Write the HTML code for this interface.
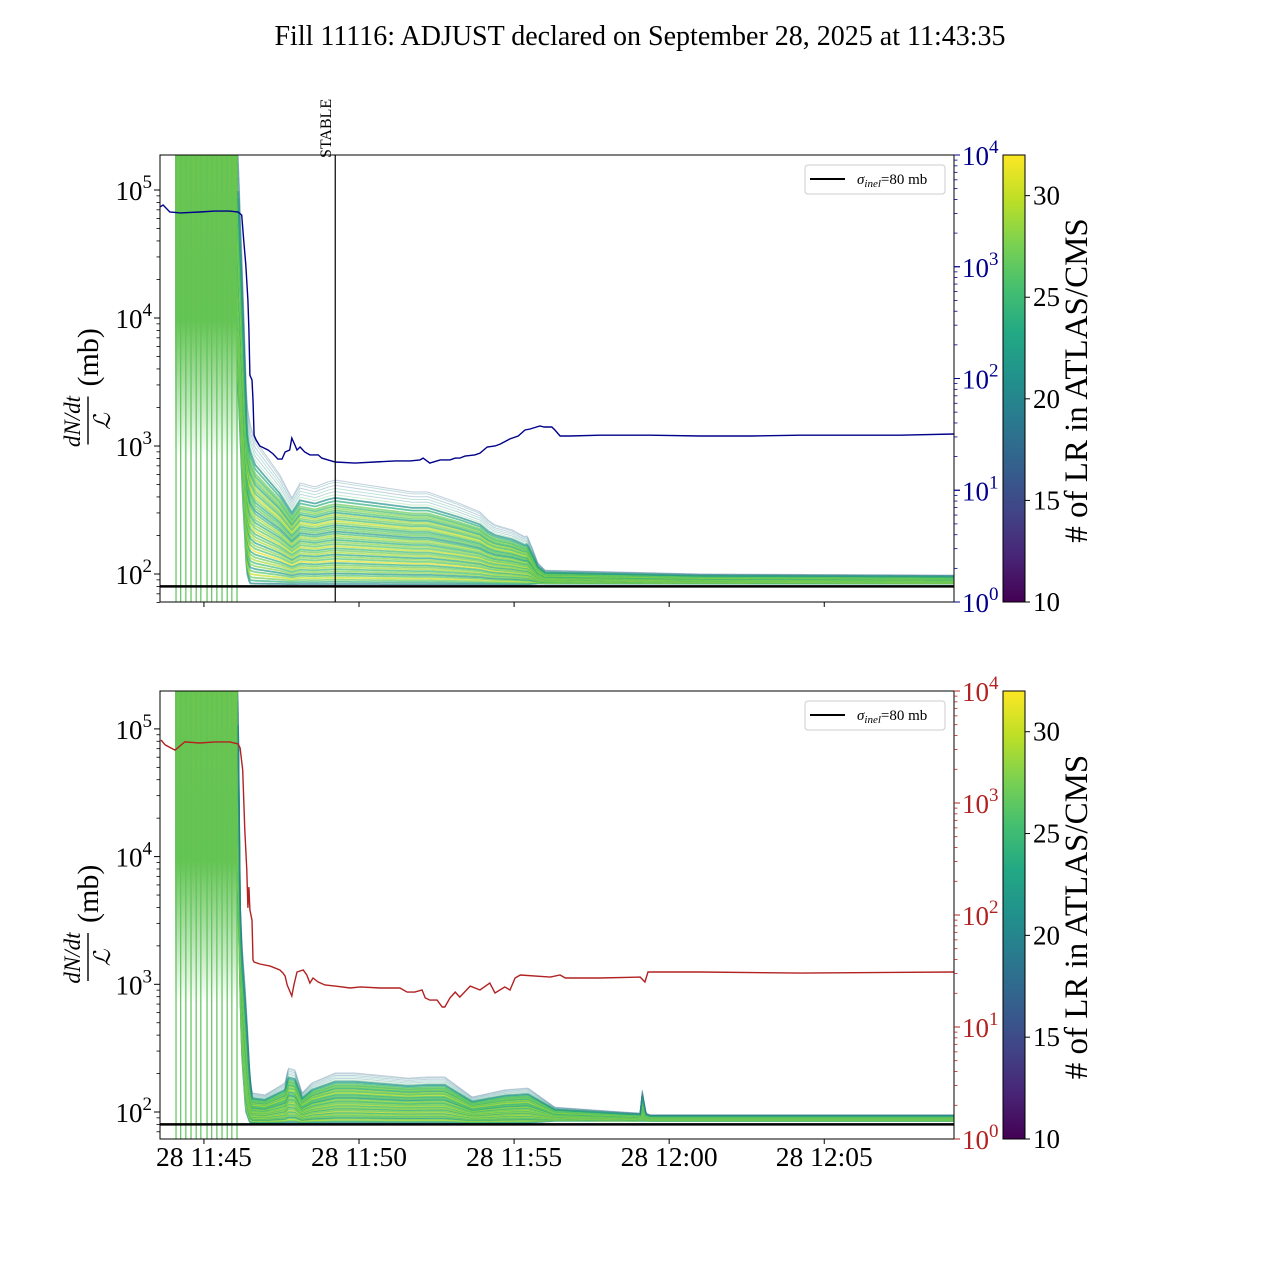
<!DOCTYPE html>
<html><head><meta charset="utf-8"><style>
html,body{margin:0;padding:0;background:#fff}
svg{display:block;font-family:"Liberation Serif","DejaVu Serif",serif}
</style></head><body>
<svg id="fig" width="1280" height="1280" viewBox="0 0 1280 1280" xmlns="http://www.w3.org/2000/svg">
<defs>
<clipPath id="clipTop"><rect x="160" y="155" width="794" height="447"/></clipPath>
<clipPath id="clipBot"><rect x="160" y="691" width="794" height="448"/></clipPath>
<linearGradient id="viridis" x1="0" y1="1" x2="0" y2="0">
<stop offset="0" stop-color="#440154"/><stop offset="0.1" stop-color="#482475"/><stop offset="0.2" stop-color="#414487"/><stop offset="0.3" stop-color="#355f8d"/><stop offset="0.4" stop-color="#2a788e"/><stop offset="0.5" stop-color="#21918c"/><stop offset="0.6" stop-color="#22a884"/><stop offset="0.7" stop-color="#44bf70"/><stop offset="0.8" stop-color="#7ad151"/><stop offset="0.9" stop-color="#bddf26"/><stop offset="1" stop-color="#fde725"/>
</linearGradient>
<linearGradient id="fadeTop" x1="0" y1="155" x2="0" y2="602" gradientUnits="userSpaceOnUse">
<stop offset="0" stop-color="#6cc54f" stop-opacity="1"/><stop offset="0.37" stop-color="#66c453" stop-opacity="1"/><stop offset="0.68" stop-color="#5cc05a" stop-opacity="0"/><stop offset="1" stop-color="#5cc05a" stop-opacity="0"/>
</linearGradient>
<linearGradient id="fadeBot" x1="0" y1="691" x2="0" y2="1139" gradientUnits="userSpaceOnUse">
<stop offset="0" stop-color="#6cc54f" stop-opacity="1"/><stop offset="0.38" stop-color="#66c453" stop-opacity="1"/><stop offset="0.7" stop-color="#5cc05a" stop-opacity="0"/><stop offset="1" stop-color="#5cc05a" stop-opacity="0"/>
</linearGradient>
</defs>
<text x="640" y="45" text-anchor="middle" font-size="28">Fill 11116: ADJUST declared on September 28, 2025 at 11:43:35</text>
<g id="layer"></g>
</svg>
<script>
// ---------- data (time in seconds after 11:40:00) ----------
const xTickSec = [300, 600, 900, 1200, 1500];
const xTickLabels = ["28 11:45", "28 11:50", "28 11:55", "28 12:00", "28 12:05"];
const leftTickExp = [2, 3, 4, 5];
const rightTickExp = [0, 1, 2, 3, 4];
const cbTicks = [10, 15, 20, 25, 30];
const sigmaInel = 80;
const stableSec = 554;
const spikeSec = [246, 255, 265, 275, 285, 294, 306, 315, 325, 335, 345, 354, 364];

const blueT = [215,221,234,254,292,321,350,366,373,377,381,385,387,389,393,395,397,401,408,424,434,443,451,457,466,470,476,480,486,495,505,521,528,540,554,592,631,670,699,718,724,737,757,776,786,795,805,824,834,848,863,873,892,908,921,931,950,958,973,979,989,1008,1066,1163,1260,1357,1453,1550,1647,1751];
const blueV = [3430,3570,3090,3030,3090,3150,3150,3090,2900,1730,1040,504,272,107,97,64,31,28.2,24.9,22.9,21.1,19.0,19.0,22.0,22.9,29.3,25.4,22.9,24.4,22.0,20.7,20.7,19.4,18.7,17.9,17.5,17.9,18.3,18.3,18.7,19.4,17.5,18.7,18.7,19.4,19.4,20.2,20.7,21.5,24.4,24.9,25.9,28.8,30.6,34.6,35.3,37.6,36.8,36.8,34.6,30.6,30.6,31.1,31.1,30.6,30.6,31.1,31.1,31.1,31.9];

const redT = [217,225,244,263,292,321,350,366,370,375,379,383,385,387,389,393,395,397,408,428,447,453,457,461,470,474,480,492,499,505,511,521,534,554,583,602,641,679,693,708,722,728,737,751,761,766,776,786,795,815,834,853,863,882,892,902,912,970,989,999,1066,1144,1153,1159,1260,1453,1751];
const redV = [3650,3300,2970,3510,3430,3510,3510,3370,3100,1970,574,252,116,178,111,90,39.6,38,36.5,35,32.3,30.3,28.5,23.7,18.9,23.7,31,32.3,29.1,24.7,27.4,25.2,23.7,23.2,22.3,22.8,22.3,22.3,20.5,20.5,21.4,18.2,17.4,17.4,15.1,15.1,18.2,20.5,18.5,23.2,21.4,24.7,20.1,22.8,21.4,27.4,29.1,27.9,29.1,27.4,27.4,27.9,25.2,31,31,30.3,31];

const bandTopT = [366,375,383,389,399,447,470,486,515,540,554,703,733,792,834,850,863,896,921,925,935,946,960,1260,1751];
const bandTopUpper = [200000,20000,2170,1500,1110,593,393,514,479,524,542,437,437,359,305,263,242,221,195,200,160,122,107,100,98];
const bandTopLower = [3000,400,100,82,82,82,82,82,82,82,82,82,82,82,82,82,82,82,82,82,83,84,84,84,84];

const bandBotT = [366,370,373,381,389,393,418,457,463,476,490,509,554,592,695,733,766,819,882,927,979,1109,1144,1148,1155,1163,1751];
const bandBotUpper = [200000,5000,2310,800,200,141,136,169,221,213,141,169,202,202,184,188,188,131,149,154,109,100,98,149,98,95,95];
const bandBotLower = [5000,1000,300,100,82,82,82,82,82,82,82,82,82,82,82,82,82,82,82,82,85,85,85,85,85,85,85];

const lineFrac = [0.01,0.03,0.05,0.07,0.09,0.11,0.13,0.15,0.17,0.19,0.21,0.23,0.25,0.27,0.29,0.31,0.33,0.35,0.37,0.39,0.41,0.43,0.45,0.47,0.49,0.51,0.53,0.55,0.57,0.59,0.61,0.63,0.65,0.67,0.69,0.71,0.73,0.75,0.77,0.8,0.83,0.86,0.89,0.92,0.95,0.98,1.0];
const lineLR = [20,24,27,30,26,22,28,25,29,27,24,31,26,28,23,29,27,25,30,26,28,24,27,29,25,22,27,26,24,28,30,25,27,29,23,26,28,25,27,24,21,26,19,23,17,21,16];

// ---------- scales ----------
const X0 = 160, X1 = 954, S0 = 215, S1 = 1751;
function xs(s){ return X0 + (s - S0) * (X1 - X0) / (S1 - S0); }
const panels = {
  top: {y0:155, y1:602, lBase:574, lDec:128, rBot:602, rDec:111.75, color:'#00008b', clip:'clipTop', cb0:602, cb1:155},
  bot: {y0:691, y1:1139, lBase:1112, lDec:127.7, rBot:1139, rDec:112, color:'#b22222', clip:'clipBot', cb0:1139, cb1:691}
};
function yL(p, v){ return p.lBase - (Math.log10(v) - 2) * p.lDec; }
function yR(p, v){ return p.rBot - Math.log10(v) * p.rDec; }
function yCB(p, v){ return p.cb0 - (v - 10) * (p.cb0 - p.cb1) / 22; }
const vstops = ['#440154','#482475','#414487','#355f8d','#2a788e','#21918c','#22a884','#44bf70','#7ad151','#bddf26','#fde725'];
function hex(c){ return [parseInt(c.substr(1,2),16),parseInt(c.substr(3,2),16),parseInt(c.substr(5,2),16)]; }
function viridis(t){
  t = Math.max(0, Math.min(1, t)); const f = t*10, i = Math.min(9, Math.floor(f)), r = f - i;
  const a = hex(vstops[i]), b = hex(vstops[i+1]);
  return 'rgb(' + a.map((v,k)=>Math.round(v + (b[k]-v)*r)).join(',') + ')';
}

const NS = 'http://www.w3.org/2000/svg';
const layer = document.getElementById('layer');
function mk(tag, attrs, parent){
  const e = document.createElementNS(NS, tag);
  for (const k in attrs) e.setAttribute(k, attrs[k]);
  (parent || layer).appendChild(e); return e;
}
function interp(ts, vs, s){
  if (s <= ts[0]) return vs[0];
  for (let i = 1; i < ts.length; i++) if (s <= ts[i]) {
    const r = (s - ts[i-1]) / (ts[i] - ts[i-1]);
    return Math.pow(10, Math.log10(vs[i-1]) + r * (Math.log10(vs[i]) - Math.log10(vs[i-1])));
  }
  return vs[vs.length-1];
}

function drawPanel(key, bandT, bandU, bandL, lineT, lineV, showXLabels){
  const p = panels[key];
  const g = mk('g', {'clip-path':'url(#'+p.clip+')'});
  
  
  const early = mk('rect', {x: xs(spikeSec[0]) - 1, y: p.y0, width: xs(bandT[0]) - xs(spikeSec[0]) + 1, height: p.y1 - p.y0, fill: 'url(#fade' + (key==='top'?'Top':'Bot') + ')'}, g);
  
  
  spikeSec.forEach(s => {
    const l = mk('line', {x1: xs(s), x2: xs(s), y1: p.y0, y2: p.y1, stroke: '#5ec45a', 'stroke-width': 1.2}, g);
    
    
  });
  const sArr = [];
  for (let s = bandT[0]; s <= bandT[bandT.length-1]; s += 2) sArr.push(s);
  lineFrac.forEach((f, j) => {
    let d = '';
    sArr.forEach((s, i) => {
      const u = Math.log10(interp(bandT, bandU, s)), lo = Math.log10(interp(bandT, bandL, s));
      const v = Math.pow(10, lo + f * (u - lo));
      d += (i ? 'L' : 'M') + xs(s).toFixed(1) + ' ' + yL(p, v).toFixed(1);
    });
    const pth = mk('path', {d: d, fill: 'none', stroke: viridis((lineLR[j] - 10) / 22), 'stroke-width': f > 0.85 ? 1 : 1.8, 'stroke-opacity': f > 0.85 ? 0.3 : 0.7}, g);
    
    
  });
  const sl = mk('line', {x1: X0, x2: X1, y1: yL(p, sigmaInel), y2: yL(p, sigmaInel), stroke: '#000', 'stroke-width': 2.5}, g);
  
  
  let d = '';
  const n = Math.min(lineT.length, lineV.length);
  for (let i = 0; i < n; i++) d += (i ? 'L' : 'M') + xs(lineT[i]).toFixed(1) + ' ' + yR(p, lineV[i]).toFixed(1);
  const rl = mk('path', {d: d, fill: 'none', stroke: p.color, 'stroke-width': 1.4}, g);
  
  
  if (key === 'top') {
    const st = mk('line', {x1: xs(stableSec), x2: xs(stableSec), y1: p.y0, y2: p.y1, stroke: '#000', 'stroke-width': 1.2});
    
    
    const tt = mk('text', {x: 0, y: 0, 'font-size': 16, transform: 'translate(' + (xs(stableSec) - 4) + ',158) rotate(-90)'});
    tt.textContent = 'STABLE';
    
    
  }
  const fr = mk('rect', {x: X0, y: p.y0, width: X1 - X0, height: p.y1 - p.y0, fill: 'none', stroke: '#000', 'stroke-width': 1});
  
  
  xTickSec.forEach((s, i) => {
    const t = mk('line', {x1: xs(s), x2: xs(s), y1: p.y1, y2: p.y1 + 5, stroke: '#000'});
    
    
    if (showXLabels) {
      const lb = mk('text', {x: xs(s), y: p.y1 + 27, 'text-anchor': 'middle', 'font-size': 27.5});
      lb.textContent = xTickLabels[i];
      
      
    }
  });
  for (let e = 1; e <= 5; e++) for (let m = 1; m <= 9; m++) {
    const v = m * Math.pow(10, e), y = yL(p, v);
    if (y < p.y0 - 0.5 || y > p.y1 + 0.5) continue;
    const t = mk('line', {x1: X0 - (m === 1 ? 6 : 3.5), x2: X0, y1: y, y2: y, stroke: '#000', 'stroke-width': m === 1 ? 1 : 0.8});
    
    
  }
  leftTickExp.forEach(e => {
    const y = yL(p, Math.pow(10, e));
    const tx = mk('text', {x: 152, y: y + 10, 'text-anchor': 'end', 'font-size': 27});
    tx.innerHTML = '10<tspan dy="-12" font-size="19">' + e + '</tspan>';
    
    
  });
  for (let e = 0; e <= 3; e++) for (let m = 1; m <= 10; m++) {
    const v = m * Math.pow(10, e), y = yR(p, v);
    const major = (m === 1 || m === 10);
    const t = mk('line', {x1: X1, x2: X1 + (major ? 6 : 3.5), y1: y, y2: y, stroke: p.color, 'stroke-width': major ? 1 : 0.8});
    
    
  }
  rightTickExp.forEach(e => {
    const y = yR(p, Math.pow(10, e));
    const tx = mk('text', {x: 962, y: y + 10, 'font-size': 27, fill: p.color});
    tx.innerHTML = '10<tspan dy="-12" font-size="19">' + e + '</tspan>';
    
    
  });
  const cy = (p.y0 + p.y1) / 2;
  const yl = mk('g', {transform: 'translate(88,' + (cy + 68) + ') rotate(-90)'});
  
  
  const num = mk('text', {x: 25, y: -8, 'text-anchor': 'middle', 'font-size': 23, 'font-style': 'italic'}, yl);
  num.textContent = 'dN/dt';
  mk('line', {x1: 2, x2: 50, y1: 0, y2: 0, stroke: '#000', 'stroke-width': 1.4}, yl);
  const den = mk('text', {x: 25, y: 22, 'text-anchor': 'middle', 'font-size': 23, 'font-style': 'italic'}, yl);
  den.textContent = 'ℒ';
  const mb = mk('text', {x: 60, y: 10, 'font-size': 30}, yl);
  mb.textContent = '(mb)';
  const lg = mk('g', {});
  
  
  mk('rect', {x: 805, y: p.y0 + 10, width: 140, height: 29, rx: 3, fill: '#fff', stroke: '#ccc', 'stroke-width': 1}, lg);
  const ll = mk('line', {x1: 810, x2: 845, y1: p.y0 + 24, y2: p.y0 + 24, stroke: '#000', 'stroke-width': 2}, lg);
  
  
  const lt = mk('text', {x: 857, y: p.y0 + 29, 'font-size': 15}, lg);
  lt.innerHTML = '<tspan font-style="italic">σ</tspan><tspan font-style="italic" font-size="11" dy="3">inel</tspan><tspan dy="-3">=80 mb</tspan>';
  const cb = mk('rect', {x: 1003, y: p.cb1, width: 22, height: p.cb0 - p.cb1, fill: 'url(#viridis)', stroke: '#000', 'stroke-width': 1});
  
  
  cbTicks.forEach(v => {
    const y = yCB(p, v);
    mk('line', {x1: 1025, x2: 1030, y1: y, y2: y, stroke: '#000'});
    const tx = mk('text', {x: 1033, y: y + 9, 'font-size': 27});
    tx.textContent = v;
    
    
  });
  const ct = mk('text', {x: 0, y: 0, 'font-size': 33, 'text-anchor': 'middle', transform: 'translate(1087,' + (cy + 2) + ') rotate(-90)'});
  ct.textContent = '# of LR in ATLAS/CMS';
  
  
}
drawPanel('top', bandTopT, bandTopUpper, bandTopLower, blueT, blueV, false);
drawPanel('bot', bandBotT, bandBotUpper, bandBotLower, redT, redV, true);
</script>
</body></html>
